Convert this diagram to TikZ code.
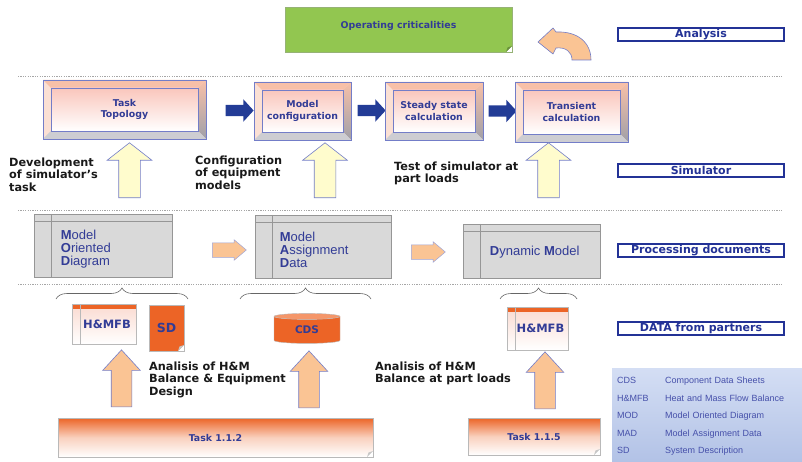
\documentclass[tikz,border=0pt]{standalone}
\usepackage{fontspec}
\setmainfont{DejaVu Sans}
\newfontfamily\arialf{Liberation Sans}
\usepackage{tikz}
\usetikzlibrary{calc, shapes, arrows, positioning, decorations.pathreplacing}

\definecolor{navyL}{RGB}{35,50,150}
\definecolor{labelblue}{RGB}{50,60,150}
\definecolor{frameblue}{RGB}{115,125,200}
\definecolor{peachtop}{RGB}{248,192,168}
\definecolor{peachside}{RGB}{251,224,212}
\definecolor{bevgray}{RGB}{160,160,168}
\definecolor{bevgrayL}{RGB}{205,205,210}
\definecolor{innerpink}{RGB}{250,198,188}
\definecolor{arrowblue}{RGB}{35,60,150}
\definecolor{paleyellow}{RGB}{255,252,205}
\definecolor{peachfill}{RGB}{250,196,148}
\definecolor{docgray}{RGB}{217,217,217}
\definecolor{docline}{RGB}{150,150,150}
\definecolor{orangeC}{RGB}{236,100,38}
\definecolor{orangeL}{RGB}{245,150,105}
\definecolor{pinkL}{RGB}{250,218,208}
\definecolor{critgreen}{RGB}{146,198,80}
\definecolor{critdark}{RGB}{105,145,60}
\definecolor{legendA}{RGB}{178,194,230}
\definecolor{legendB}{RGB}{212,222,244}
\definecolor{legendtext}{RGB}{70,80,170}
\definecolor{inkblack}{RGB}{25,25,25}

\newcommand{\LblFont}{\fontsize{9.4}{11.5}\selectfont\bfseries}
\newcommand{\NoteFont}{\fontsize{11.3}{12.5}\selectfont\bfseries}
\newcommand{\SideFont}{\fontsize{11}{12}\selectfont\bfseries}
\newcommand{\DocFont}{\arialf\fontsize{13}{13}\selectfont}
\newcommand{\LegFont}{\arialf\fontsize{9}{17.5}\selectfont}

\tikzset{
  foldgray/.style={path picture={
    \fill[white] (path picture bounding box.south east) -- ++(-6pt,0pt) -- ++(6pt,6pt) -- cycle;
    \fill[gray!45] ([xshift=-6pt]path picture bounding box.south east) -- ([yshift=6pt]path picture bounding box.south east)
      -- ([shift={(-4.5pt,4.5pt)}]path picture bounding box.south east) -- cycle;}},
  foldgreen/.style={path picture={
    \fill[white] (path picture bounding box.south east) -- ++(-6pt,0pt) -- ++(6pt,6pt) -- cycle;
    \fill[critdark] ([xshift=-6pt]path picture bounding box.south east) -- ([yshift=6pt]path picture bounding box.south east)
      -- ([shift={(-4.5pt,4.5pt)}]path picture bounding box.south east) -- cycle;}}
}

\begin{document}
\begin{tikzpicture}[x=1pt,y=-1pt]
\tikzstyle{bevel}=[draw=frameblue, line width=0.6pt, fill=peachside, font=\LblFont, text=labelblue, align=center,
  path picture={
    \fill[peachtop] (path picture bounding box.north west) -- (path picture bounding box.north east)
      -- ([shift={(-8pt,-8pt)}]path picture bounding box.north east) -- ([shift={(8pt,-8pt)}]path picture bounding box.north west) -- cycle;
    \shade[top color=peachtop, bottom color=bevgray] (path picture bounding box.north east) -- (path picture bounding box.south east)
      -- ([shift={(-8pt,8pt)}]path picture bounding box.south east) -- ([shift={(-8pt,-8pt)}]path picture bounding box.north east) -- cycle;
    \fill[bevgrayL] (path picture bounding box.south east) -- (path picture bounding box.south west)
      -- ([shift={(8pt,8pt)}]path picture bounding box.south west) -- ([shift={(-8pt,8pt)}]path picture bounding box.south east) -- cycle;
    \shadedraw[top color=innerpink, bottom color=white, draw=frameblue, line width=0.6pt]
      ([shift={(8pt,-8pt)}]path picture bounding box.north west) rectangle ([shift={(-8pt,8pt)}]path picture bounding box.south east);
  }]
\tikzstyle{doc}=[draw=docline, fill=docgray, line width=0.6pt,
  path picture={
    \draw[docline, line width=0.6pt] ([xshift=17pt]path picture bounding box.north west) -- ([xshift=17pt]path picture bounding box.south west);
    \draw[docline, line width=0.6pt] ([yshift=-7pt]path picture bounding box.north west) -- ([yshift=-7pt]path picture bounding box.north east);
  }]
\tikzstyle{doctext}=[font=\DocFont, text=labelblue, align=left, inner sep=0pt]
\tikzstyle{datadoc}=[draw=gray!55, top color=pinkL, bottom color=white, font=\fontsize{11.5}{13}\selectfont\bfseries, text=labelblue,
  path picture={
    \fill[orangeC] (path picture bounding box.north west) rectangle ([yshift=-5pt]path picture bounding box.north east);
    \draw[gray!55] ([xshift=8pt]path picture bounding box.north west) -- ([xshift=8pt]path picture bounding box.south west);
  }]
\tikzstyle{sddoc}=[draw=gray!55, fill=orangeC, font=\fontsize{12.5}{14}\selectfont\bfseries, text=labelblue, foldgray]
\tikzstyle{cyl}=[cylinder, shape border rotate=90, aspect=0.25, cylinder uses custom fill, cylinder body fill=orangeC,
  cylinder end fill=orangeL, draw=gray!55, minimum width=66pt, minimum height=30pt, inner sep=0pt,
  font=\fontsize{10.5}{12}\selectfont\bfseries, text=labelblue]
\tikzstyle{taskbox}=[draw=gray!55, top color=orangeC, bottom color=white, middle color=orangeC!30, font=\LblFont, text=labelblue, foldgray]
\tikzstyle{crit}=[draw=critdark!70, fill=critgreen, font=\LblFont, text=labelblue, text height=7pt, text depth=9.2pt, foldgreen]
\tikzstyle{sidelabel}=[draw=navyL, line width=1.5pt, fill=white, minimum width=166pt, minimum height=13pt, inner sep=0pt, font=\SideFont, text=navyL]
\tikzstyle{txt}=[font=\NoteFont, text=inkblack, align=left, inner sep=0pt, anchor=north west]
\tikzstyle{bluearr}=[single arrow, fill=arrowblue, minimum height=28pt, inner sep=5.5pt, single arrow head extend=5.5pt, single arrow tip angle=95]
\tikzstyle{yelarr}=[single arrow, shape border rotate=90, fill=paleyellow, draw=frameblue, line width=0.6pt, minimum height=55pt, inner sep=10.5pt, single arrow head extend=11.5pt, single arrow tip angle=104]
\tikzstyle{orgup}=[single arrow, shape border rotate=90, fill=peachfill, draw=frameblue, line width=0.6pt, minimum height=57pt, inner sep=10pt, single arrow head extend=8.5pt, single arrow tip angle=85]
\tikzstyle{orgright}=[single arrow, fill=peachfill, draw=frameblue!70, line width=0.5pt, minimum height=34pt, inner sep=7pt, single arrow head extend=3pt, single arrow tip angle=80]
\tikzstyle{sepline}=[gray!70, line width=0.6pt, dash pattern=on 1.2pt off 1.2pt]
\tikzstyle{bracegray}=[draw=gray!80!black, line width=0.6pt, decorate, decoration={brace, amplitude=11pt}]
\tikzstyle{legendbox}=[top color=legendB, bottom color=legendA, font=\LegFont, text=legendtext, align=left]

\useasboundingbox (0,0) rectangle (802,462);

% analysis
\node[crit, minimum width=227pt, minimum height=45pt] (crit) at (398.5,29.5) {Operating criticalities};
\filldraw[fill=peachfill, draw=frameblue, line width=0.6pt] (591,60) .. controls (591,42) and (577,31) .. (556,32)
  -- (553,28) -- (538,42) -- (553,54) -- (556,48) .. controls (566,47) and (572,52) .. (572,60) -- cycle;
\node[sidelabel] (lAnalysis) at (701,34.5) {Analysis};
\draw[sepline] (18,76) -- (783,76);

% simulator
\node[bevel, minimum width=163pt, minimum height=59pt] (topo) at (124.5,109.5) {Task\\Topology};
\node[bluearr] (b1) at (237,110.5) {};
\node[bevel, minimum width=97pt, minimum height=58pt] (mconf) at (302.5,111) {Model\\configuration};
\node[bluearr] (b2) at (369,110.5) {};
\node[bevel, minimum width=98pt, minimum height=58pt] (steady) at (434,111) {Steady state\\calculation};
\node[bluearr] (b3) at (500,111) {};
\node[bevel, minimum width=113pt, minimum height=60pt] (trans) at (571.5,112) {Transient\\calculation};
\node[yelarr] (y1) at (129.5,174.5) {};
\node[yelarr] (y2) at (325,174.5) {};
\node[yelarr] (y3) at (548.5,174.5) {};
\node[txt] (tDev) at (9,157.5) {Development\\of simulator’s\\task};
\node[txt] (tConf) at (195,155.5) {Configuration\\of equipment\\models};
\node[txt] (tTest) at (394,161.5) {Test of simulator at\\part loads};
\node[sidelabel] (lSim) at (701,170.5) {Simulator};
\draw[sepline] (18,210) -- (783,210);

% processing documents
\node[doc, minimum width=138pt, minimum height=63pt] (mod) at (103,245.5) {};
\node[doctext, right=27pt of mod.west, yshift=-3.5pt] (modT) {{\bfseries M}odel\\{\bfseries O}riented\\{\bfseries D}iagram};
\node[orgright] (o1) at (225,250) {};
\node[doc, minimum width=136pt, minimum height=63pt] (mad) at (323,246.5) {};
\node[doctext, right=25pt of mad.west, yshift=-3.5pt] (madT) {{\bfseries M}odel\\{\bfseries A}ssignment\\{\bfseries D}ata};
\node[orgright] (o2) at (424,252) {};
\node[doc, minimum width=137pt, minimum height=54pt] (dyn) at (531.5,251) {};
\node[doctext, right=27pt of dyn.west, yshift=-1pt] (dynT) {{\bfseries D}ynamic {\bfseries M}odel};
\node[sidelabel] (lProc) at (701,250.5) {Processing documents};
\draw[sepline] (18,284) -- (783,284);

% data from partners
\draw[bracegray] (56,299) -- (188,299);
\draw[bracegray] (240,299) -- (371,299);
\draw[bracegray] (500,299) -- (577,299);
\node[datadoc, minimum width=64pt, minimum height=40pt] (hm1) at (104,324) {\hspace{6pt}H\&MFB};
\node[sddoc, minimum width=35pt, minimum height=46pt] (sd) at (166.5,328) {SD};
\node[cyl] (cds) at (307,330) {CDS};
\node[datadoc, minimum width=61pt, minimum height=43pt] (hm2) at (537.5,328.5) {\hspace{6pt}H\&MFB};
\node[sidelabel] (lData) at (701,328.5) {DATA from partners};
\node[orgup] (u1) at (121.5,384) {};
\node[orgup] (u2) at (309,385) {};
\node[orgup] (u3) at (545,386) {};
\node[txt] (tAn1) at (149,361.5) {Analisis of H\&M\\Balance \& Equipment\\Design};
\node[txt] (tAn2) at (375,361.5) {Analisis of H\&M\\Balance at part loads};
\node[taskbox, minimum width=315pt, minimum height=39pt] (t112) at (215.5,437.5) {Task 1.1.2};
\node[taskbox, minimum width=132pt, minimum height=37pt] (t115) at (534,436.5) {Task 1.1.5};

% legend
\node[legendbox, anchor=north west, minimum height=94pt, text width=180pt, inner xsep=5pt, inner ysep=0pt] (legend) at (612,368) {%
  \begin{tabular}{@{}p{48pt}@{}l@{}}
  CDS & Component Data Sheets\\
  H\&MFB & Heat and Mass Flow Balance\\
  MOD & Model Oriented Diagram\\
  MAD & Model Assignment Data\\
  SD & System Description
  \end{tabular}};
\end{tikzpicture}
\end{document}
